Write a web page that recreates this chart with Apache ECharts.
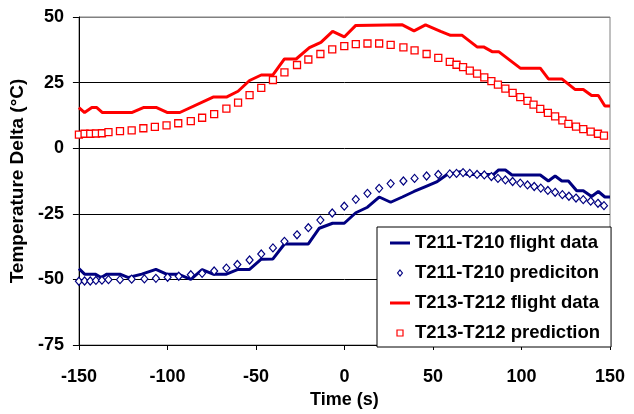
<!DOCTYPE html>
<html>
<head>
<meta charset="utf-8">
<script src="https://cdn.jsdelivr.net/npm/echarts@6/dist/echarts.min.js"></script>
<style>
  html, body { margin: 0; padding: 0; background: #fff; }
  #chart { width: 634px; height: 414px; }
</style>
</head>
<body>
<div id="chart"></div>
<script>
// Time axis (s) and temperature deltas (°C)
const xTicks = [-150, -100, -50, 0, 50, 100, 150];
const yTicks = [-75, -50, -25, 0, 25, 50];

const seriesNames = [
  'T211-T210 flight data',
  'T211-T210 prediciton',
  'T213-T212 flight data',
  'T213-T212 prediction'
];

// T211-T210 flight data
const flight211Time = [-150, -146.8, -140.8, -137.4, -134.2, -126.8, -122, -114.5, -106.5, -100.5,
  -93.9, -86.8, -80.4, -74.2, -66.7, -60.1, -53.6, -47, -40.4, -33.9,
  -20.4, -14.2, -6.7, -0.1, 6.4, 13, 19.6, 26.1, 32.7, 39.3,
  45.8, 52.4, 58, 65.5, 69.3, 84.3, 87.1, 90.9, 94.6, 110.6,
  115.2, 119, 122.8, 126.5, 131.2, 134.9, 139.6, 143.4, 147.1, 150];
const flight211Delta = [-45.9, -48, -48, -49.3, -48, -48, -49.3, -48, -46.2, -48,
  -48, -50, -46.3, -48, -48, -46.2, -46.2, -42.3, -42.2, -36.5,
  -36.5, -30.5, -28.6, -28.6, -24.6, -22.5, -18.6, -20.6, -18.6, -16.5,
  -14.6, -12.7, -10, -9, -10, -10, -8.3, -8.3, -10.2, -10.2,
  -12.5, -10.6, -12.5, -12.5, -16.2, -16.2, -18.4, -16.5, -18.6, -18.6];

// T211-T210 prediction
const pred211Time = [-150, -146.8, -143.6, -140.4, -137, -133.3, -126.8, -120.2, -113, -106.5,
  -99.9, -93.6, -86.8, -80.4, -73.6, -66.7, -60.5, -53.6, -47, -40.4,
  -33.9, -26.8, -20.4, -13.6, -6.9, -0.1, 6.4, 13, 19.6, 26.1,
  33.3, 39.6, 46.4, 53, 59.5, 63.3, 67, 70.8, 74.9, 79,
  83, 86.7, 90.9, 95, 99.3, 103.4, 107.2, 110.9, 114.9, 119,
  123.1, 126.8, 130.8, 134.9, 139.1, 143.2, 146.6];
const pred211Delta = [-50.7, -50.6, -50.6, -50.4, -50.3, -50.1, -50.1, -49.9, -49.8, -49.6,
  -49.2, -48.8, -48.2, -47.7, -46.8, -45.7, -44.3, -42.6, -40.3, -38,
  -35.5, -33, -30.3, -27.4, -24.7, -22.1, -19.5, -17.2, -15.3, -13.5,
  -12.5, -11.5, -10.6, -10, -9.8, -9.6, -9.3, -9.6, -10, -10.2,
  -10.8, -11.5, -12.1, -12.7, -13.3, -14, -14.6, -15.2, -16.1, -16.8,
  -17.7, -18.3, -19, -19.6, -20.2, -21, -21.9];

// T213-T212 flight data
const flight213Time = [-150, -146.8, -142.7, -139.9, -136.7, -120.2, -113.6, -106.1, -99.9, -93,
  -74.2, -66.7, -60.1, -53.6, -47, -40.4, -33.9, -27.3, -19.8, -13.3,
  -6.7, -0.1, 6.4, 32.7, 39.3, 45.8, 54.3, 59.9, 66.5, 74.9,
  78.6, 83.4, 87.1, 99.3, 110.6, 115.2, 122.8, 130.2, 134.9, 139.6,
  143.4, 147.1, 150];
const flight213Delta = [15.5, 13.6, 15.5, 15.5, 13.6, 13.6, 15.5, 15.5, 13.6, 13.6,
  19.5, 19.5, 21.7, 25.8, 27.9, 27.9, 34, 34, 38.3, 40.3,
  44.5, 42.4, 46.8, 47, 44.7, 47, 44.5, 43, 43, 38.6,
  38.6, 36.8, 36.8, 30.5, 30.5, 26.4, 26.4, 22.4, 22.4, 20.1,
  20.1, 16.1, 16.1];

// T213-T212 prediction
const pred213Time = [-150, -146.8, -143.6, -140.4, -137, -133.3, -126.8, -120.2, -113.6, -107.1,
  -100.5, -93.9, -86.8, -80.4, -73.6, -66.7, -60.1, -53.6, -47, -40.4,
  -33.9, -26.8, -20.4, -13.6, -6.9, -0.1, 6.4, 13, 19.6, 26.1,
  33.3, 39.6, 46.4, 53, 59.5, 63.3, 67, 70.8, 74.9, 79,
  83, 86.7, 90.9, 95, 99.3, 103.4, 106.8, 110.6, 114.9, 119,
  123.1, 126.5, 130.8, 134.9, 139.1, 143.2, 146.6];
const pred213Delta = [5.2, 5.5, 5.5, 5.6, 5.7, 6.1, 6.5, 6.8, 7.6, 8.1,
  8.7, 9.5, 10.3, 11.6, 13, 15.1, 17.4, 20.2, 23, 26,
  28.9, 31.7, 33.8, 35.9, 37.7, 38.9, 39.7, 39.9, 39.9, 39.4,
  38.4, 37.3, 35.9, 34.4, 32.9, 31.8, 30.9, 29.6, 28.4, 27,
  25.6, 24.2, 22.7, 21.1, 19.5, 18, 16.6, 15, 13.5, 12.1,
  10.6, 9.3, 8.2, 7.3, 6.3, 5.5, 4.8];

const zip = (xs, ys) => xs.map((x, i) => [x, ys[i]]);

const FONT = 'Liberation Sans, Arial, sans-serif';
const NAVY = '#000080';
const RED = '#ff0000';

// Legend glyphs: a short thick stroke for measured data, small open markers for predictions
const ICON_LINE = 'path://M0,0H20V3H0Z';
const ICON_DIAMOND = 'path://M4,0L8,5L4,10L0,5Z';
const ICON_SQUARE = 'path://M0,0H6V6H0Z';

const chart = echarts.init(document.getElementById('chart'), null, { renderer: 'canvas' });

chart.setOption({
  animation: false,
  backgroundColor: '#fff',
  grid: {
    left: 77, right: 24, top: 17, bottom: 65,
    show: true, borderColor: '#808080', borderWidth: 1, backgroundColor: 'transparent'
  },
  legend: {
    orient: 'vertical',
    left: 377, top: 227,
    padding: [6, 11, 4, 13],
    itemGap: 10,
    itemWidth: 20,
    itemHeight: 6,
    itemTextGap: 3,
    symbolKeepAspect: true,
    backgroundColor: '#fff',
    borderColor: '#000',
    borderWidth: 1,
    borderRadius: 0,
    textStyle: { fontFamily: FONT, fontWeight: 'bold', fontSize: 18.5, color: '#000', lineHeight: 20 },
    data: [
      { name: seriesNames[0], icon: ICON_LINE, itemStyle: { color: NAVY, borderWidth: 0 } },
      { name: seriesNames[1], icon: ICON_DIAMOND, itemStyle: { color: '#fff', borderColor: NAVY, borderWidth: 1.2 } },
      { name: seriesNames[2], icon: ICON_LINE, itemStyle: { color: RED, borderWidth: 0 } },
      { name: seriesNames[3], icon: ICON_SQUARE, itemStyle: { color: '#fff', borderColor: RED, borderWidth: 1.2 } }
    ]
  },
  xAxis: {
    type: 'value',
    min: xTicks[0], max: xTicks[xTicks.length - 1], interval: 50,
    name: 'Time (s)',
    nameLocation: 'middle',
    nameGap: 46,
    nameTextStyle: { fontFamily: FONT, fontWeight: 'bold', fontSize: 18, color: '#000' },
    axisLine: { onZero: false, lineStyle: { color: '#000', width: 1 } },
    axisTick: { show: true, inside: false, length: 5, lineStyle: { color: '#000' } },
    axisLabel: { margin: 23, fontFamily: FONT, fontWeight: 'bold', fontSize: 18, color: '#000' },
    splitLine: { show: false }
  },
  yAxis: {
    type: 'value',
    min: yTicks[0], max: yTicks[yTicks.length - 1], interval: 25,
    name: 'Temperature Delta (°C)',
    nameLocation: 'middle',
    nameGap: 41,
    nameTextStyle: { fontFamily: FONT, fontWeight: 'bold', fontSize: 19, color: '#000' },
    axisLine: { show: true, onZero: false, lineStyle: { color: '#000', width: 1 } },
    axisTick: { show: true, inside: false, length: 6, lineStyle: { color: '#000' } },
    axisLabel: { margin: 15, fontFamily: FONT, fontWeight: 'bold', fontSize: 18, color: '#000' },
    splitLine: { show: true, lineStyle: { color: ['#000', '#000', '#000', '#000', '#000', '#808080'], width: 1 } }
  },
  series: [
    {
      name: seriesNames[0], type: 'line', data: zip(flight211Time, flight211Delta),
      symbol: 'none', lineStyle: { color: NAVY, width: 3 }, itemStyle: { color: NAVY }, z: 2
    },
    {
      name: seriesNames[1], type: 'scatter', data: zip(pred211Time, pred211Delta),
      symbol: 'diamond', symbolSize: [7, 8],
      itemStyle: { color: '#fff', borderColor: NAVY, borderWidth: 1.2, opacity: 1 }, z: 3
    },
    {
      name: seriesNames[2], type: 'line', data: zip(flight213Time, flight213Delta),
      symbol: 'none', lineStyle: { color: RED, width: 3 }, itemStyle: { color: RED }, z: 4
    },
    {
      name: seriesNames[3], type: 'scatter', data: zip(pred213Time, pred213Delta),
      symbol: 'rect', symbolSize: 7,
      itemStyle: { color: '#fff', borderColor: RED, borderWidth: 1.3, opacity: 1 }, z: 5
    }
  ]
});
</script>
</body>
</html>
